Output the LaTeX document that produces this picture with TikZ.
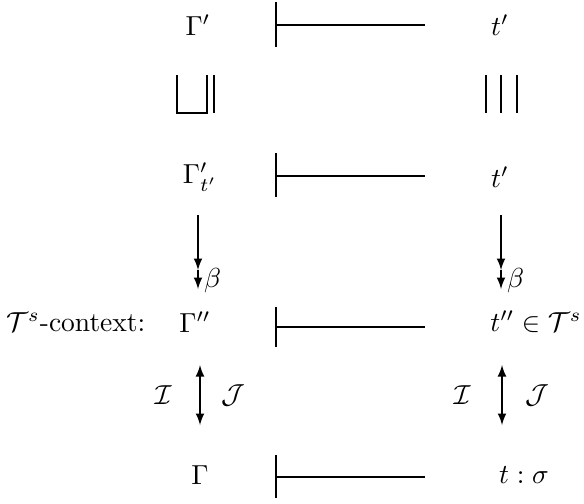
\documentclass[tikz,border=0pt]{standalone}
\usepackage{amsmath,amssymb}
\usepackage{xcolor}
\usetikzlibrary{positioning}

\begin{document}
\begin{tikzpicture}[x=0.4pt,y=-0.4pt,
  turn/.style={line width=0.8pt},
  rel/.style={line width=0.8pt},
  map/.style={line width=0.6pt,-latex},
  lbl/.style={inner sep=1pt,scale=1.1}]
\useasboundingbox (0,0) rectangle (584,503);
% left and right columns
\node[lbl] (G1) at (198,25) {$\Gamma'$};
\node[lbl] (G3) at (200,177) {$\Gamma'_{t'}$};
\node[lbl] (G5) at (195,322) {$\Gamma''$};
\node[lbl,left=11pt of G5] (ctx) {$\mathcal{T}^s$-context:};
\node[lbl] (G7) at (200,475) {$\Gamma$};
\node[lbl] (t1) at (500,25) {$t'$};
\node[lbl] (t3) at (500,177) {$t'$};
\node[lbl] (t5) at (536,322) {$t''\in\mathcal{T}^s$};
\node[lbl] (t7) at (524,475) {$t:\sigma$};
% turnstiles
\draw[turn] (276,2)--(276,47) (276,25)--(425,25);
\draw[turn] (276,153)--(276,197) (276,176)--(425,176);
\draw[turn] (276,307)--(276,347) (276,327)--(425,327);
\draw[turn] (276,455)--(276,498) (276,477)--(425,477);
% order relations
\draw[rel] (177,75)--(177,113)--(207,113)--(207,75);
\draw[rel] (214,75)--(214,113);
\foreach \x in {486,501,517} \draw[rel] (\x,75)--(\x,113);
% beta steps
\coordinate (b1) at (198,270);
\coordinate (b2) at (501,270);
\draw[map] (198,215)--(b1);
\draw[map] (b1)--(198,289) node[lbl,right=1pt,yshift=3pt] {$\beta$};
\draw[map] (501,215)--(b2);
\draw[map] (b2)--(501,289) node[lbl,right=1pt,yshift=3pt] {$\beta$};
% interpretations
\draw[map,latex-latex] (200,365)--(200,425);
\node[lbl] (I1) at (163,395) {$\mathcal{I}$};
\node[lbl] (J1) at (233,395) {$\mathcal{J}$};
\draw[map,latex-latex] (502,365)--(502,425);
\node[lbl] (I2) at (462,395) {$\mathcal{I}$};
\node[lbl] (J2) at (537,395) {$\mathcal{J}$};
\end{tikzpicture}
\end{document}
